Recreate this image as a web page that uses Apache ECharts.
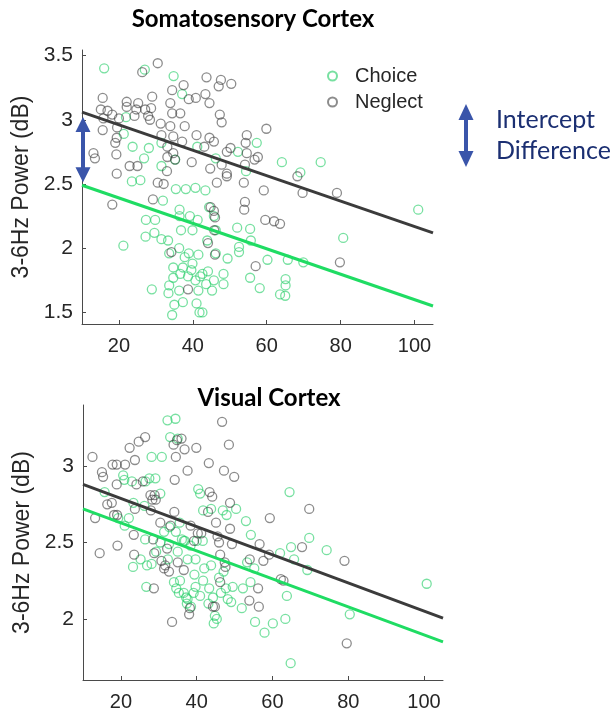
<!DOCTYPE html>
<html>
<head>
<meta charset="utf-8">
<script src="https://cdn.jsdelivr.net/npm/echarts@6/dist/echarts.min.js"></script>
<style>
  html, body { margin: 0; padding: 0; background: #ffffff; }
  #chart { width: 612px; height: 719px; }
</style>
</head>
<body>
<div id="chart"></div>
<script>
// ---- tick labels ----
const xTicks = [20, 40, 60, 80, 100];
const somaYTicks = [1.5, 2, 2.5, 3, 3.5];
const visYTicks = [2, 2.5, 3];

// ---- regression lines (value at x = 10 and x = 105) ----
const fitX = [10, 105];
const somaNeglectFit = [3.06, 2.12];
const somaChoiceFit = [2.49, 1.55];
const visNeglectFit = [2.88, 2.005];
const visChoiceFit = [2.72, 1.85];

// ---- Somatosensory cortex: [x, power dB] ----
const somaChoice = [
  [16.0,3.40],[27.0,3.39],[34.8,3.34],[37.1,3.20],[21.9,3.02],[21.3,2.89],[28.1,2.78],[31.5,2.82],
  [23.7,2.79],[26.8,2.70],[31.5,2.64],[35.2,2.69],[41.2,2.79],[57.3,2.82],[52.2,2.75],[64.1,2.67],
  [74.6,2.67],[54.4,2.60],[69.1,2.59],[46.2,2.70],[23.5,2.52],[25.8,2.53],[35.4,2.46],[38.1,2.46],
  [40.7,2.47],[43.4,2.45],[31.9,2.37],[36.4,2.30],[36.4,2.25],[39.2,2.25],[41.3,2.22],[44.4,2.32],
  [45.7,2.25],[52.0,2.16],[55.5,2.15],[46.2,2.14],[36.8,2.14],[39.9,2.14],[27.3,2.22],[29.8,2.22],
  [27.2,2.09],[29.6,2.12],[31.5,2.07],[33.3,2.06],[43.9,2.06],[21.2,2.02],[36.3,2.00],[38.9,1.96],
  [33.6,1.96],[37.8,1.93],[39.9,1.88],[41.5,1.95],[34.7,1.85],[37.3,1.85],[36.6,1.80],[39.6,1.83],
  [42.0,1.78],[34.7,1.77],[38.7,1.78],[40.7,1.75],[44.1,1.82],[42.6,1.80],[48.3,1.80],[43.6,1.72],
  [45.7,1.75],[48.3,1.72],[45.2,1.67],[41.5,1.67],[33.6,1.71],[36.3,1.67],[33.4,1.65],[28.9,1.68],
  [35.0,1.56],[37.3,1.58],[34.4,1.48],[41.0,1.57],[41.8,1.50],[42.6,1.50],[46.2,1.96],[49.4,1.92],
  [52.5,1.97],[55.7,2.06],[60.2,1.91],[65.7,1.91],[69.9,1.89],[58.1,1.69],[55.5,1.77],[65.1,1.76],
  [65.1,1.71],[63.6,1.64],[65.0,1.63],[80.7,2.08],[101.0,2.30],[52.5,2.01]
];
const somaNeglect = [
  [30.5,3.44],[26.3,3.37],[43.7,3.33],[47.6,3.31],[50.4,3.28],[47.0,3.26],[34.4,3.23],[37.5,3.27],
  [40.8,3.17],[43.4,3.20],[44.5,3.13],[38.9,3.16],[15.6,3.17],[22.1,3.14],[25.2,3.13],[29.0,3.18],
  [28.7,3.09],[15.1,3.08],[16.9,3.07],[22.1,3.10],[24.7,3.08],[27.1,3.08],[27.9,3.03],[34.4,3.05],
  [33.9,3.13],[36.6,3.05],[47.3,3.04],[47.8,2.98],[15.8,3.01],[18.2,3.04],[20.0,3.01],[15.6,2.92],
  [19.5,2.94],[19.4,2.86],[19.0,2.82],[24.2,3.03],[28.4,3.00],[31.3,2.97],[33.9,2.95],[37.8,2.95],
  [31.5,2.88],[34.7,2.87],[37.1,2.83],[41.0,2.88],[44.5,2.86],[45.7,2.83],[54.6,2.88],[54.3,2.82],
  [59.9,2.93],[50.2,2.78],[49.2,2.75],[43.1,2.79],[33.1,2.79],[34.7,2.74],[33.1,2.71],[35.2,2.69],
  [39.7,2.67],[44.7,2.62],[47.8,2.65],[49.2,2.58],[49.2,2.56],[54.1,2.65],[54.6,2.74],[57.6,2.71],
  [56.7,2.69],[68.3,2.56],[69.7,2.43],[79.0,2.43],[53.8,2.51],[46.5,2.51],[30.5,2.51],[32.1,2.50],
  [33.0,2.60],[19.4,2.58],[22.9,2.64],[25.0,2.64],[13.1,2.74],[13.5,2.70],[19.3,2.73],[18.2,2.34],
  [29.2,2.38],[44.8,2.32],[45.7,2.29],[46.0,2.24],[45.8,2.14],[46.0,1.95],[44.1,2.04],[53.9,2.30],
  [54.1,2.36],[59.2,2.45],[59.6,2.22],[62.0,2.21],[63.6,2.19],[34.2,1.97],[38.7,1.68],[57.0,1.86],
  [79.8,1.89]
];

// ---- Visual cortex: [x, power dB] ----
const visChoice = [
  [32.3,3.30],[34.4,3.31],[33.0,3.19],[35.0,3.18],[28.1,3.06],[30.8,3.06],[30.4,2.82],[29.1,2.92],
  [27.5,2.92],[26.5,2.90],[20.6,2.94],[20.9,2.91],[22.9,2.90],[15.7,2.83],[19.3,2.66],[21.0,2.61],
  [23.2,2.34],[26.4,2.52],[26.9,2.35],[26.7,2.21],[28.1,2.36],[29.3,2.44],[30.4,2.50],[31.4,2.57],
  [32.4,2.39],[32.8,2.60],[34.5,2.57],[35.5,2.63],[36.6,2.51],[36.1,2.52],[36.9,2.51],[38.4,2.48],
  [39.7,2.39],[39.4,2.29],[40.4,2.85],[40.9,2.82],[41.6,2.51],[41.7,2.71],[34.0,2.24],[34.6,2.20],
  [35.3,2.17],[35.6,2.25],[36.6,2.17],[37.2,2.14],[37.6,2.13],[37.4,2.10],[38.5,2.08],[39.2,2.17],
  [39.7,2.21],[40.9,2.15],[41.7,2.25],[42.0,2.33],[43.3,2.20],[43.1,2.10],[44.3,2.14],[44.8,2.02],
  [44.5,1.97],[45.3,2.00],[43.8,2.35],[45.9,2.27],[46.4,2.17],[47.1,2.31],[47.7,2.20],[48.2,2.13],
  [49.1,2.11],[49.5,2.21],[50.4,2.72],[52.2,2.20],[53.0,2.64],[54.3,2.55],[51.9,2.07],[53.3,2.37],
  [54.2,2.24],[55.2,2.33],[55.4,1.98],[57.9,1.91],[60.1,1.97],[62.0,2.43],[63.4,2.00],[63.8,2.15],
  [64.5,2.83],[64.9,2.47],[65.7,2.39],[69.2,2.32],[69.7,2.53],[74.3,2.45],[80.4,2.03],[64.8,1.71],
  [100.7,2.23],[25.2,2.39],[23.3,2.76],[26.2,2.74],[22.1,2.66],[32.7,2.49],[35.0,2.44],[43.8,2.72],
  [46.9,2.71],[47.9,2.68],[40.0,2.51],[37.6,2.39]
];
const visNeglect = [
  [12.5,3.06],[13.2,2.66],[14.4,2.43],[15.0,2.96],[15.3,2.93],[16.4,2.75],[17.6,2.76],[17.8,3.01],
  [18.9,3.01],[18.2,2.68],[19.0,2.68],[18.9,2.88],[19.1,2.48],[21.1,3.01],[22.3,3.12],[24.7,3.16],
  [26.4,3.19],[23.7,3.04],[24.1,2.88],[23.7,2.72],[23.4,2.55],[23.5,2.42],[25.8,2.90],[27.8,2.81],
  [28.3,2.78],[28.9,2.81],[29.2,2.78],[27.9,2.71],[28.5,2.52],[28.8,2.43],[28.7,2.20],[30.4,2.63],
  [30.7,2.38],[31.7,2.35],[31.4,2.33],[32.7,2.31],[32.2,2.46],[33.1,2.61],[34.1,2.70],[34.2,2.91],
  [33.9,3.14],[34.5,3.06],[34.8,3.17],[36.0,3.18],[36.8,3.11],[37.6,2.97],[38.4,2.61],[39.3,2.51],
  [39.9,3.12],[38.2,2.07],[38.0,2.03],[33.5,1.98],[40.3,2.56],[41.2,2.56],[43.2,3.02],[43.4,2.83],
  [44.1,2.80],[43.0,2.70],[45.1,2.63],[45.5,2.54],[46.7,3.29],[48.5,3.14],[47.2,2.97],[49.9,2.93],
  [48.8,2.76],[48.8,2.59],[49.3,2.49],[45.9,2.50],[46.2,2.42],[47.4,2.37],[47.6,2.34],[46.2,2.24],
  [44.8,2.08],[44.3,2.08],[54.0,2.39],[53.9,2.12],[56.2,2.20],[56.4,2.08],[56.6,2.49],[57.6,2.38],
  [59.3,2.66],[59.1,2.42],[62.2,2.26],[62.9,2.25],[67.8,2.47],[69.7,2.72],[79.0,2.38],[79.6,1.84],
  [35.0,2.37],[36.6,2.32]
];

// ---- styling ----
const GREEN_MARK = 'rgba(38,205,105,0.78)';
const GRAY_MARK = 'rgba(55,55,55,0.72)';
const GREEN_LINE = '#1fdc63';
const GRAY_LINE = '#3b3b3b';
const AXIS_COLOR = '#4a4a4a';
const LABEL_COLOR = '#262626';
const ARROW_COLOR = '#3a55aa';
const NOTE_COLOR = '#1b2f72';
const SANS = '"Liberation Sans", Arial, sans-serif';
const TITLE_FONT = 'Lato, sans-serif';

function xAxisFor(gridIndex) {
  return {
    gridIndex, type: 'value', min: 10, max: 105,
    axisLine: { show: true, lineStyle: { color: AXIS_COLOR, width: 1 } },
    axisTick: { show: true, inside: true, length: 4, customValues: xTicks, lineStyle: { color: AXIS_COLOR } },
    axisLabel: { customValues: xTicks, color: LABEL_COLOR, fontSize: 20, fontFamily: SANS, margin: 12 },
    splitLine: { show: false }
  };
}
function yAxisFor(gridIndex, min, max, ticks, gap) {
  return {
    gridIndex, type: 'value', min, max,
    name: '3-6Hz Power (dB)', nameLocation: 'middle', nameGap: gap, nameRotate: 90,
    nameTextStyle: { color: LABEL_COLOR, fontSize: 23, fontFamily: SANS },
    axisLine: { show: true, lineStyle: { color: AXIS_COLOR, width: 1 } },
    axisTick: { show: true, inside: true, length: 4, customValues: ticks, lineStyle: { color: AXIS_COLOR } },
    axisLabel: { customValues: ticks, color: LABEL_COLOR, fontSize: 21, fontFamily: SANS, margin: 9 },
    splitLine: { show: false }
  };
}
function scatter(name, data, idx, color) {
  return {
    name, type: 'scatter', xAxisIndex: idx, yAxisIndex: idx, data,
    symbol: 'circle', symbolSize: 9,
    itemStyle: { color: 'rgba(255,255,255,0)', borderColor: color, borderWidth: 1.3 },
    emphasis: { disabled: true }, z: 2
  };
}
function fitLine(name, ys, idx, color) {
  return {
    name, type: 'line', xAxisIndex: idx, yAxisIndex: idx,
    data: fitX.map((x, i) => [x, ys[i]]),
    symbol: 'none', lineStyle: { color, width: 3 }, silent: true, z: 4
  };
}

const chart = echarts.init(document.getElementById('chart'), null, { renderer: 'canvas' });

const option = {
  animation: false,
  backgroundColor: '#ffffff',
  title: [
    { text: 'Somatosensory Cortex', left: 248, top: 2, textAlign: 'center',
      textStyle: { fontFamily: TITLE_FONT, fontWeight: 'bold', fontSize: 24, color: '#000' } },
    { text: 'Visual Cortex', left: 264, top: 381, textAlign: 'center',
      textStyle: { fontFamily: TITLE_FONT, fontWeight: 'bold', fontSize: 24, color: '#000' } }
  ],
  legend: {
    data: ['Choice', 'Neglect'], orient: 'vertical', left: 322, top: 61,
    icon: 'circle', itemWidth: 9, itemHeight: 9, itemGap: 6,
    textStyle: { fontSize: 20, fontFamily: SANS, color: LABEL_COLOR, padding: [0, 0, 0, 13] },
    selectedMode: false
  },
  grid: [
    { left: 82, top: 50, width: 351, height: 274 },
    { left: 83, top: 405, width: 360, height: 275 }
  ],
  xAxis: [xAxisFor(0), xAxisFor(1)],
  yAxis: [
    yAxisFor(0, 1.41, 3.543, somaYTicks, 48),
    yAxisFor(1, 1.6, 3.4, visYTicks, 45)
  ],
  series: [
    scatter('Choice', somaChoice, 0, GREEN_MARK),
    scatter('Neglect', somaNeglect, 0, GRAY_MARK),
    fitLine('Choice fit', somaChoiceFit, 0, GREEN_LINE),
    fitLine('Neglect fit', somaNeglectFit, 0, GRAY_LINE),
    scatter('Choice', visChoice, 1, GREEN_MARK),
    scatter('Neglect', visNeglect, 1, GRAY_MARK),
    fitLine('Choice fit', visChoiceFit, 1, GREEN_LINE),
    fitLine('Neglect fit', visNeglectFit, 1, GRAY_LINE)
  ]
};
chart.setOption(option);

// Double-headed arrow polygon between y1 (top) and y2 (bottom) centred on cx
function doubleArrow(cx, y1, y2, headW, headL, shaftW) {
  const hw = headW / 2, sw = shaftW / 2;
  return [
    [cx, y1], [cx + hw, y1 + headL], [cx + sw, y1 + headL], [cx + sw, y2 - headL],
    [cx + hw, y2 - headL], [cx, y2], [cx - hw, y2 - headL], [cx - sw, y2 - headL],
    [cx - sw, y1 + headL], [cx - hw, y1 + headL]
  ];
}

// arrow spanning the gap between the two fitted intercepts at the left edge
const neglectStart = chart.convertToPixel({ xAxisIndex: 0, yAxisIndex: 0 }, [fitX[0], somaNeglectFit[0]]);
const choiceStart = chart.convertToPixel({ xAxisIndex: 0, yAxisIndex: 0 }, [fitX[0], somaChoiceFit[0]]);

chart.setOption({
  graphic: [
    { type: 'polygon', z: 10,
      shape: { points: doubleArrow(neglectStart[0] + 1, neglectStart[1] + 5, choiceStart[1] - 3, 15, 15, 4) },
      style: { fill: ARROW_COLOR } },
    { type: 'polygon', z: 10, shape: { points: doubleArrow(466, 104, 167, 15, 16, 4) },
      style: { fill: ARROW_COLOR } },
    { type: 'text', left: 496, top: 107, z: 10,
      style: { text: 'Intercept', fill: NOTE_COLOR, font: '25px Lato, sans-serif' } },
    { type: 'text', left: 496, top: 138, z: 10,
      style: { text: 'Difference', fill: NOTE_COLOR, font: '25px Lato, sans-serif' } }
  ]
});
</script>
</body>
</html>
